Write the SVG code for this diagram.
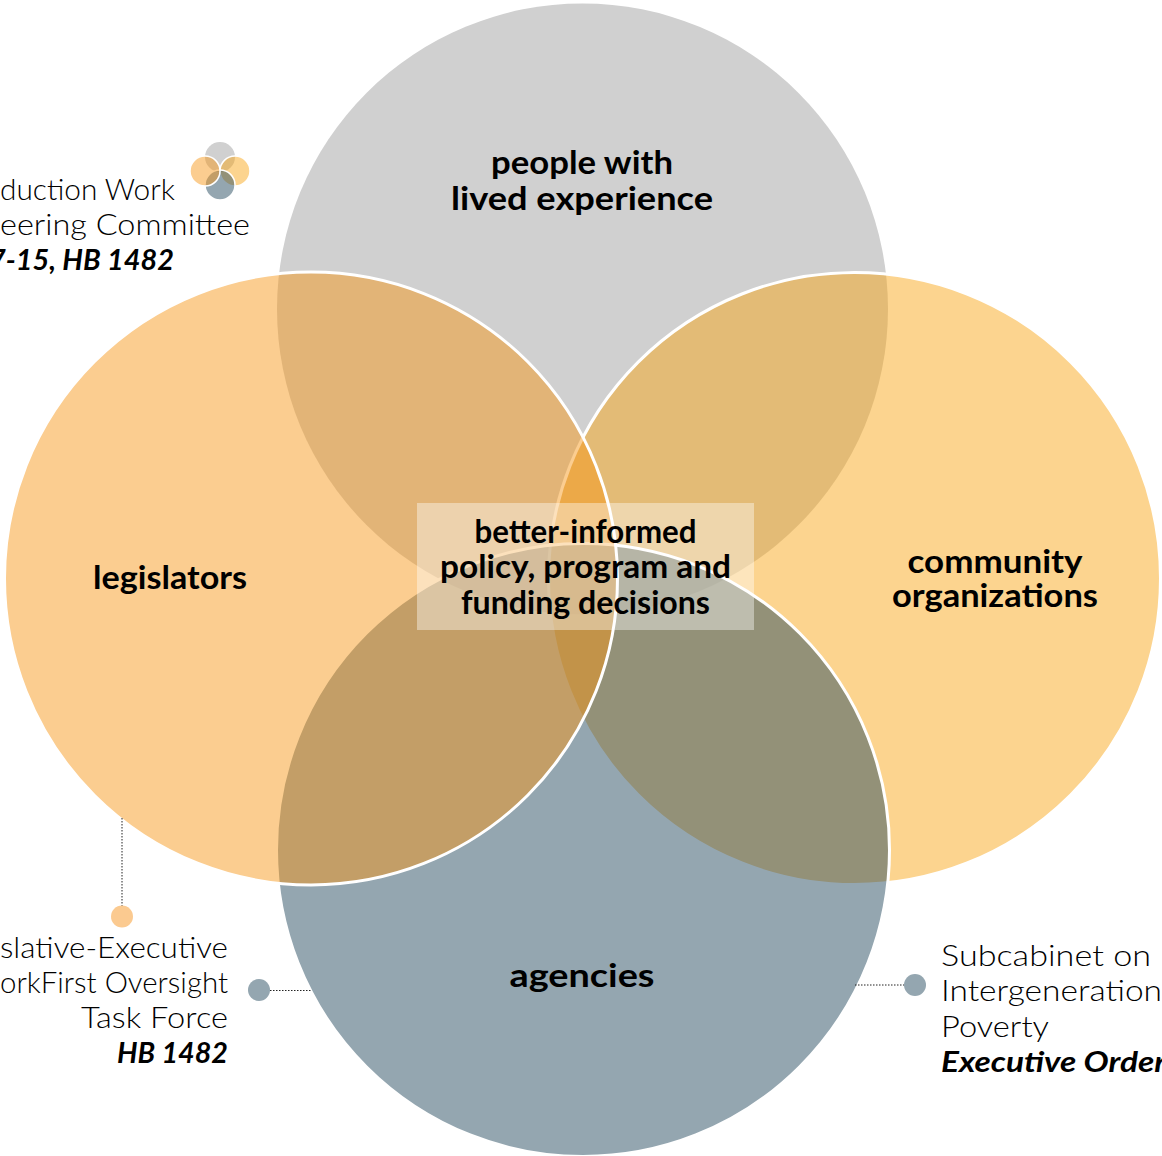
<svg xmlns="http://www.w3.org/2000/svg" width="1162" height="1156" viewBox="0 0 1162 1156">
<style>
.c{stroke:#fff;stroke-width:3}
.g{fill:#d0d0d0}
.y{fill:#f9a514;fill-opacity:.48}
.b{fill:#294d61;fill-opacity:.5}
.o{fill:#f79618;fill-opacity:.48}
.h{font-family:"Lato","Liberation Sans",sans-serif;font-weight:700;font-size:32px;fill:#000;text-anchor:middle}
.t{font-family:"Lato","Liberation Sans",sans-serif;font-weight:300;font-size:30px;fill:#000}
.i{font-family:"Lato","Liberation Sans",sans-serif;font-weight:700;font-style:italic;font-size:29px;fill:#000}
.e{text-anchor:end}
.d{stroke:#222;stroke-width:1;stroke-dasharray:1.5 1.5;fill:none}
</style>
<rect width="1162" height="1156" fill="#fff"/>
<g id="venn">
<g id="node-people"><circle class="g" cx="582.500" cy="309" r="305.500"/></g>
<g id="node-community"><circle class="c y" cx="854.500" cy="578.500" r="306"/></g>
<g id="node-agencies"><circle class="c b" cx="583" cy="850" r="306.500"/></g>
<g id="node-legislators"><circle class="c o" cx="311" cy="578.500" r="306.500"/></g>
</g>
<g id="connectors">
<path class="d" d="M122 818V906"/>
<path class="d" d="M270 990.500H311"/>
<path class="d" d="M855 985H904"/>
</g>
<g id="node-center">
<rect x="417" y="503" width="337" height="127" fill="#fff" fill-opacity=".4"/>
<text class="h" x="585.500" y="543" textLength="222" lengthAdjust="spacingAndGlyphs">better-informed</text>
<text class="h" x="585.500" y="578" textLength="291" lengthAdjust="spacingAndGlyphs">policy, program and</text>
<text class="h" x="585.500" y="614" textLength="249" lengthAdjust="spacingAndGlyphs">funding decisions</text>
</g>
<g id="label-people">
<text class="h" x="582" y="174" textLength="182" lengthAdjust="spacingAndGlyphs">people with</text>
<text class="h" x="582" y="210" textLength="262" lengthAdjust="spacingAndGlyphs">lived experience</text>
</g>
<text class="h" id="label-legislators" x="170" y="589" textLength="154" lengthAdjust="spacingAndGlyphs">legislators</text>
<g id="label-community">
<text class="h" x="995" y="573" textLength="175" lengthAdjust="spacingAndGlyphs">community</text>
<text class="h" x="995" y="607" textLength="206" lengthAdjust="spacingAndGlyphs">organizations</text>
</g>
<text class="h" id="label-agencies" x="582" y="987" textLength="145" lengthAdjust="spacingAndGlyphs">agencies</text>
<g id="mini-icon">
<circle class="g" cx="220" cy="157" r="15"/>
<circle class="c y" style="stroke-width:1.500" cx="235" cy="171" r="15"/>
<circle class="c b" style="stroke-width:1.500" cx="220" cy="185" r="15"/>
<circle class="c o" style="stroke-width:1.500" cx="205" cy="171" r="15"/>
</g>
<g id="note-steering">
<text class="t e" x="175" y="200" textLength="175" lengthAdjust="spacingAndGlyphs">duction Work</text>
<text class="t e" x="250" y="235" textLength="250" lengthAdjust="spacingAndGlyphs">eering Committee</text>
<text class="i e" x="174" y="270" textLength="185" lengthAdjust="spacingAndGlyphs">7-15, HB 1482</text>
</g>
<g id="note-oversight">
<circle cx="122" cy="916.500" r="11" fill="#fbca90"/>
<circle cx="259" cy="990" r="11" fill="#94a6b0"/>
<text class="t e" x="228" y="958" textLength="228" lengthAdjust="spacingAndGlyphs">slative-Executive</text>
<text class="t e" x="228" y="993" textLength="228" lengthAdjust="spacingAndGlyphs">orkFirst Oversight</text>
<text class="t e" x="228" y="1028" textLength="147" lengthAdjust="spacingAndGlyphs">Task Force</text>
<text class="i e" x="228" y="1063" textLength="111" lengthAdjust="spacingAndGlyphs">HB 1482</text>
</g>
<g id="note-subcabinet">
<circle cx="915" cy="985" r="11" fill="#94a6b0"/>
<text class="t" x="941" y="966" textLength="210" lengthAdjust="spacingAndGlyphs">Subcabinet on</text>
<text class="t" x="941" y="1001" textLength="221" lengthAdjust="spacingAndGlyphs">Intergeneration</text>
<text class="t" x="941" y="1037" textLength="108" lengthAdjust="spacingAndGlyphs">Poverty</text>
<text class="i" x="941" y="1072" textLength="225" lengthAdjust="spacingAndGlyphs">Executive Order</text>
</g>
</svg>
